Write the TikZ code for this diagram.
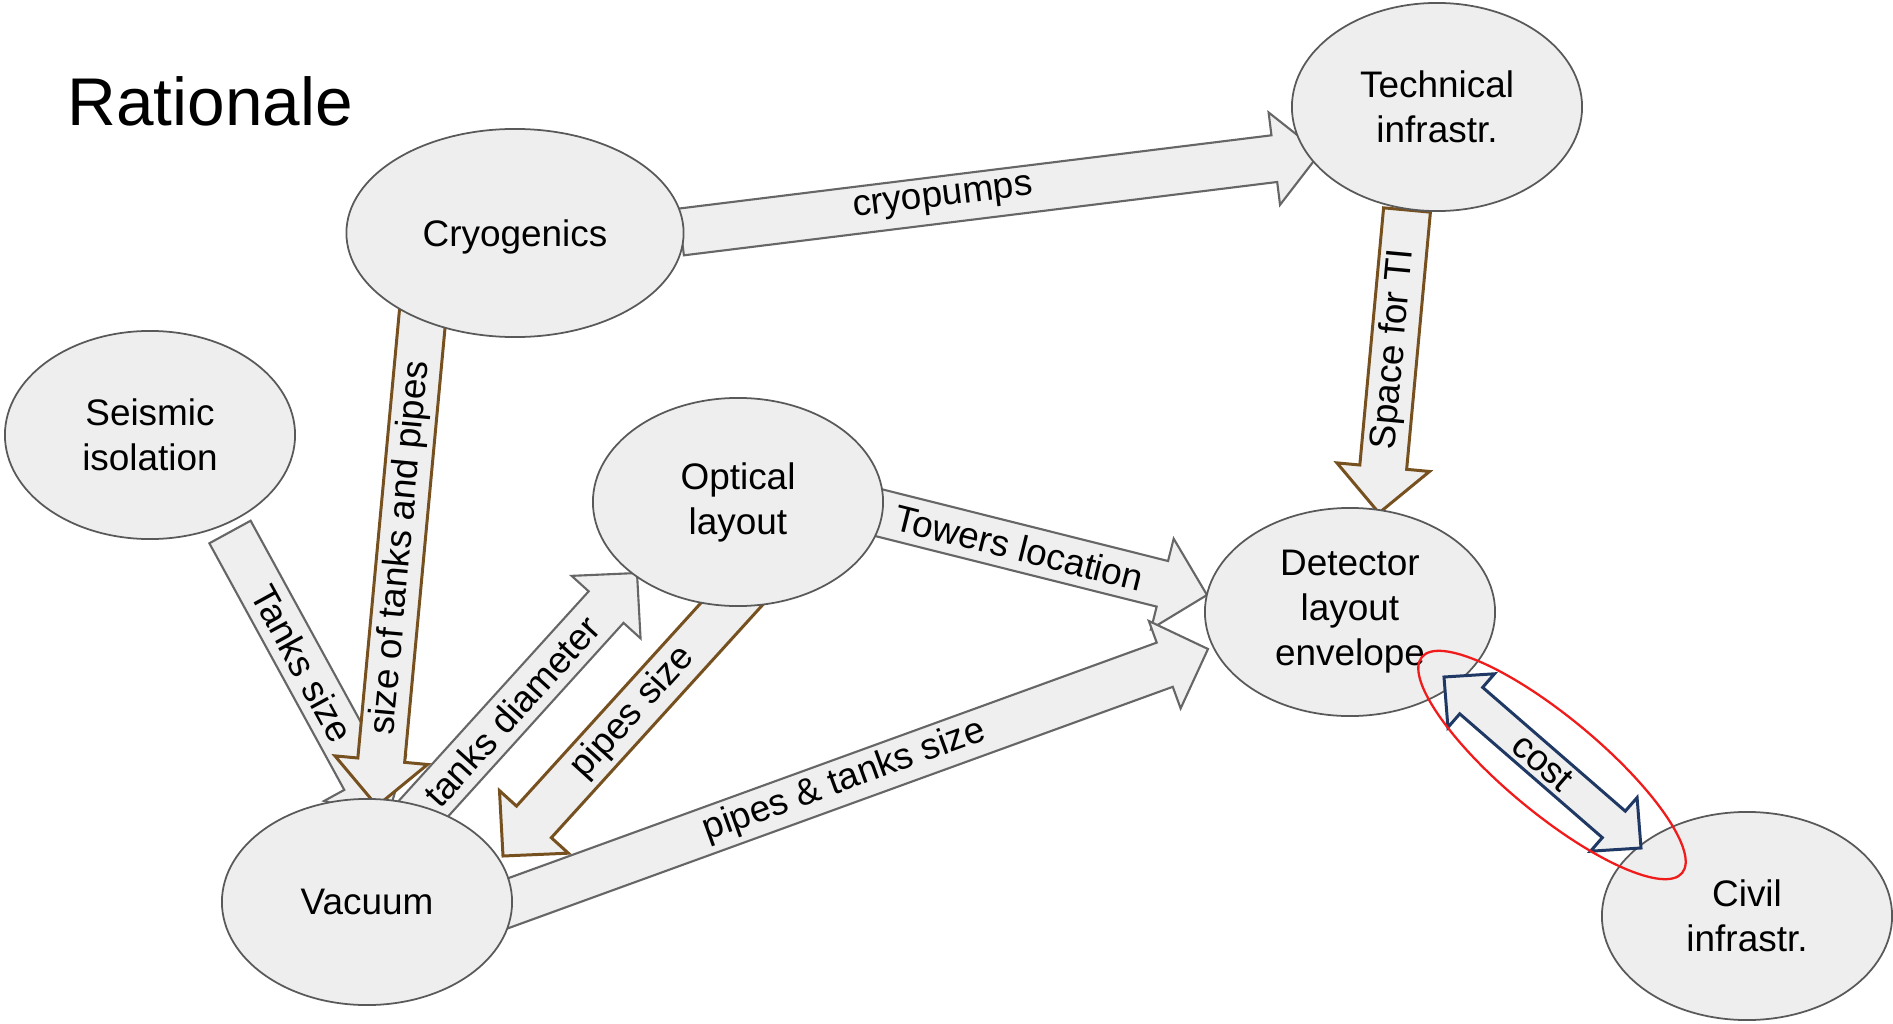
\documentclass[tikz,border=0pt]{standalone}
\usepackage{fontspec}
\setmainfont{Liberation Sans}
\usepackage{xcolor}
\usepackage{tikz}
\usetikzlibrary{shapes,arrows,positioning,calc,backgrounds}

\definecolor{ellfill}{HTML}{EEEEEE}
\definecolor{elldraw}{HTML}{595959}
\definecolor{arrfill}{HTML}{EFEFEF}
\definecolor{arrgray}{HTML}{666666}
\definecolor{arrbrown}{HTML}{76501E}
\definecolor{arrnavy}{HTML}{1F3864}
\definecolor{ringred}{HTML}{F01C1C}

\begin{document}
\begin{tikzpicture}[x=0.01cm, y=-0.01cm,
    every node/.style={font=\fontsize{10.5}{12.8}\selectfont},
    topic/.style={ellipse, draw=elldraw, fill=ellfill, line width=0.5pt,
        minimum width=2.9cm, minimum height=2.08cm, inner sep=0pt, align=center},
    fat/.style={fill=arrfill, line width=0.6pt, line join=miter}]
    \useasboundingbox (0,0) rectangle (1893,1024);

    % title
    \node[anchor=base west, font=\fontsize{19.2}{22}\selectfont] (title) at (55,125) {Rationale};

    % topics
    \node[topic] (tech) at (1437,107) {Technical\\infrastr.};
    \node[topic, minimum width=3.37cm, text depth=-0.06cm] (cryo) at (515,233) {Cryogenics};
    \node[topic] (seis) at (150,435) {Seismic\\isolation};
    \node[topic] (opt) at (738,502) {Optical\\layout};
    \node[topic] (det) at (1350,612) {Detector\\layout\\envelope};
    \node[topic, minimum height=2.06cm] (vac) at (367,902) {Vacuum};
    \node[topic] (civ) at (1747,916) {Civil\\infrastr.};

    % arrow ends
    \coordinate (cryoE) at (681,232);  \coordinate (techW) at (1320,153);
    \coordinate (techS) at (1407,210); \coordinate (detN) at (1379,513);
    \coordinate (seisS) at (230,532);  \coordinate (vacN) at (387,819);
    \coordinate (cryoS) at (424,300);  \coordinate (vacNN) at (377,806);
    \coordinate (vacNE) at (405,829);  \coordinate (optSW) at (637,573);
    \coordinate (optS) at (758,575);   \coordinate (vacE) at (503,856);
    \coordinate (optE) at (860,508);   \coordinate (detW) at (1207,595);
    \coordinate (vacEE) at (495,908);  \coordinate (detSW) at (1208,649);
    \coordinate (costA) at (1444,677); \coordinate (costB) at (1641,848);

    % block arrows behind the topics
    \begin{scope}[on background layer]
    \foreach \s/\t/\txt/\col/\lw/\p in {
        cryoE/techW/cryopumps/arrgray/0.6/0.41,
        techS/detN/Space for TI/arrbrown/0.85/0.46,
        seisS/vacN/Tanks size/arrgray/0.6/0.46,
        cryoS/vacNN/size of tanks and pipes/arrbrown/0.85/0.49,
        vacNE/optSW/tanks diameter/arrgray/0.6/0.46,
        optS/vacE/pipes size/arrbrown/0.85/0.49,
        optE/detW/Towers location/arrgray/0.6/0.46,
        vacEE/detSW/pipes \& tanks size/arrgray/0.6/0.49} {
        \coordinate (hb) at ($(\t)!0.46cm!(\s)$);
        \draw[fat, draw=\col, line width=\lw pt] ($(\s)!0.235cm!90:(\t)$) -- ($(hb)!0.235cm!90:(\t)$)
            -- ($(hb)!0.465cm!90:(\t)$) -- (\t) -- ($(hb)!0.465cm!-90:(\t)$)
            -- ($(hb)!0.235cm!-90:(\t)$) -- ($(\s)!0.235cm!-90:(\t)$) -- cycle;
        \path (\s) -- (\t) node[pos=\p, sloped] {\txt};
    }
    \end{scope}

    % cost
    \coordinate (ca) at ($(costA)!0.36cm!(costB)$);
    \coordinate (cb) at ($(costB)!0.36cm!(costA)$);
    \draw[fat, draw=arrnavy, line width=0.85pt] (costA) -- ($(ca)!0.355cm!90:(costB)$) -- ($(ca)!0.175cm!90:(costB)$)
        -- ($(cb)!0.175cm!90:(costB)$) -- ($(cb)!0.355cm!90:(costB)$) -- (costB)
        -- ($(cb)!0.355cm!-90:(costB)$) -- ($(cb)!0.175cm!-90:(costB)$)
        -- ($(ca)!0.175cm!-90:(costB)$) -- ($(ca)!0.355cm!-90:(costB)$) -- cycle;
    \path (costA) -- (costB) node[midway, sloped] {cost};
    \node[ellipse, draw=ringred, line width=0.65pt, minimum width=3.38cm, minimum height=0.96cm,
        inner sep=0pt, rotate=-39.7] (ring) at (1552,765) {};
\end{tikzpicture}
\end{document}
